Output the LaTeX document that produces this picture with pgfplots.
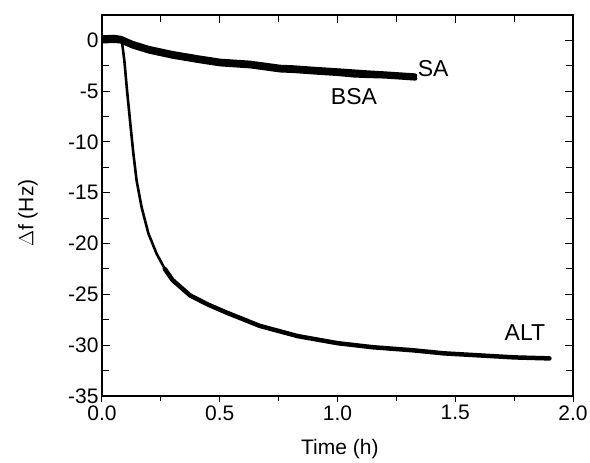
\documentclass[border=0pt]{standalone}
\usepackage{fontspec}
\setmainfont{Liberation Sans}
\usepackage{pgfplots}
\usepackage{pgfplotstable}
\pgfplotsset{compat=1.18}
\pgfplotsset{
  common/.style={
    scale only axis, width=471pt, height=381pt,
    at={(0,0)}, anchor=south west,
    xmin=0, xmax=2, ymin=-35, ymax=2.5,
    xtick={0,0.5,1,1.5,2}, ytick={-35,-30,-25,-20,-15,-10,-5,0},
    minor x tick num=1, minor y tick num=1,
    axis line style={line width=1.2pt},
    every tick/.style={black, line width=1pt},
    ticklabel style={font=\fontsize{21}{25}\selectfont},
    label style={font=\fontsize{21}{25}\selectfont},
  }
}
\pgfplotstableread{
x y
0 0.3
0.05 0.35
0.08 0.25
0.13 -0.25
0.2 -0.75
0.3 -1.25
0.416 -1.7
0.5 -2.0
0.63 -2.2
0.756 -2.6
0.81 -2.65
0.9 -2.8
1.0 -2.95
1.125 -3.15
1.2 -3.25
1.33 -3.45
}\SAdata
\pgfplotstableread{
x y
0 -0.1
0.05 -0.05
0.08 -0.1
0.13 -0.6
0.2 -1.1
0.3 -1.6
0.416 -2.05
0.5 -2.35
0.63 -2.55
0.756 -2.95
0.81 -3.0
0.9 -3.15
1.0 -3.3
1.07 -3.45
1.125 -3.5
1.2 -3.55
1.33 -3.75
}\BSAdata
\pgfplotstableread{
x y
0 0.1
0.05 0.15
0.084 0
0.095 -2
0.105 -4.6
0.119 -7.9
0.133 -11.1
0.147 -13.8
0.168 -16.4
0.197 -19.0
0.232 -21.0
0.267 -22.5
0.30 -23.6
}\ALThead
\pgfplotstableread{
x y
0.267 -22.5
0.30 -23.6
0.374 -25.1
0.45 -26.0
0.53 -26.8
0.67 -28.1
0.83 -29.1
1.0 -29.8
1.15 -30.2
1.32 -30.5
1.45 -30.8
1.6 -31.0
1.75 -31.2
1.90 -31.3
}\ALTtail
\begin{document}
\begin{tikzpicture}
\path[use as bounding box] (-102pt,-67pt) rectangle (488pt,396pt);
% bottom axis with outward ticks and labels
\begin{axis}[common,
  tick align=outside, xtick pos=left, ytick=\empty,
  major tick length=6pt, minor tick length=5pt,
  xticklabels={0.0,0.5,1.0,1.5,2.0},
  xlabel={Time (h)},
  xlabel style={at={(axis description cs:0.505,-0.139)}, anchor=center},
]
\end{axis}
% main axis with data
\begin{axis}[common,
  tick align=inside, xtick pos=right, ytick pos=both,
  major tick length=8pt, minor tick length=7pt,
  xticklabels={}, yticklabels={-35,-30,-25,-20,-15,-10,-5,0},
  ylabel={$\Delta$f (Hz)},
  ylabel style={at={(axis description cs:-0.157,0.48)}, anchor=center, font=\fontsize{21}{25}\selectfont},
  every axis plot/.append style={black, line join=round, line cap=round},
]
% SA
\addplot[line width=4.2pt] table {\SAdata};
\addplot[line width=2.8pt] table {\SAdata};
\addplot[line width=1.4pt] table {\SAdata};
% BSA
\addplot[line width=4.2pt] table {\BSAdata};
\addplot[line width=2.8pt] table {\BSAdata};
\addplot[line width=1.4pt] table {\BSAdata};
% ALT
\addplot[line width=2.6pt] table {\ALThead};
\addplot[line width=1.2pt] table {\ALThead};
\addplot[line width=4.5pt] table {\ALTtail};
\addplot[line width=3pt] table {\ALTtail};
\addplot[line width=1.5pt] table {\ALTtail};
\node[font=\fontsize{23}{27}\selectfont] at (axis cs:1.406,-2.75) {SA};
\node[font=\fontsize{23}{27}\selectfont] at (axis cs:1.07,-5.51) {BSA};
\node[font=\fontsize{23}{27}\selectfont] at (axis cs:1.796,-28.8) {ALT};
\end{axis}
\end{tikzpicture}
\end{document}
